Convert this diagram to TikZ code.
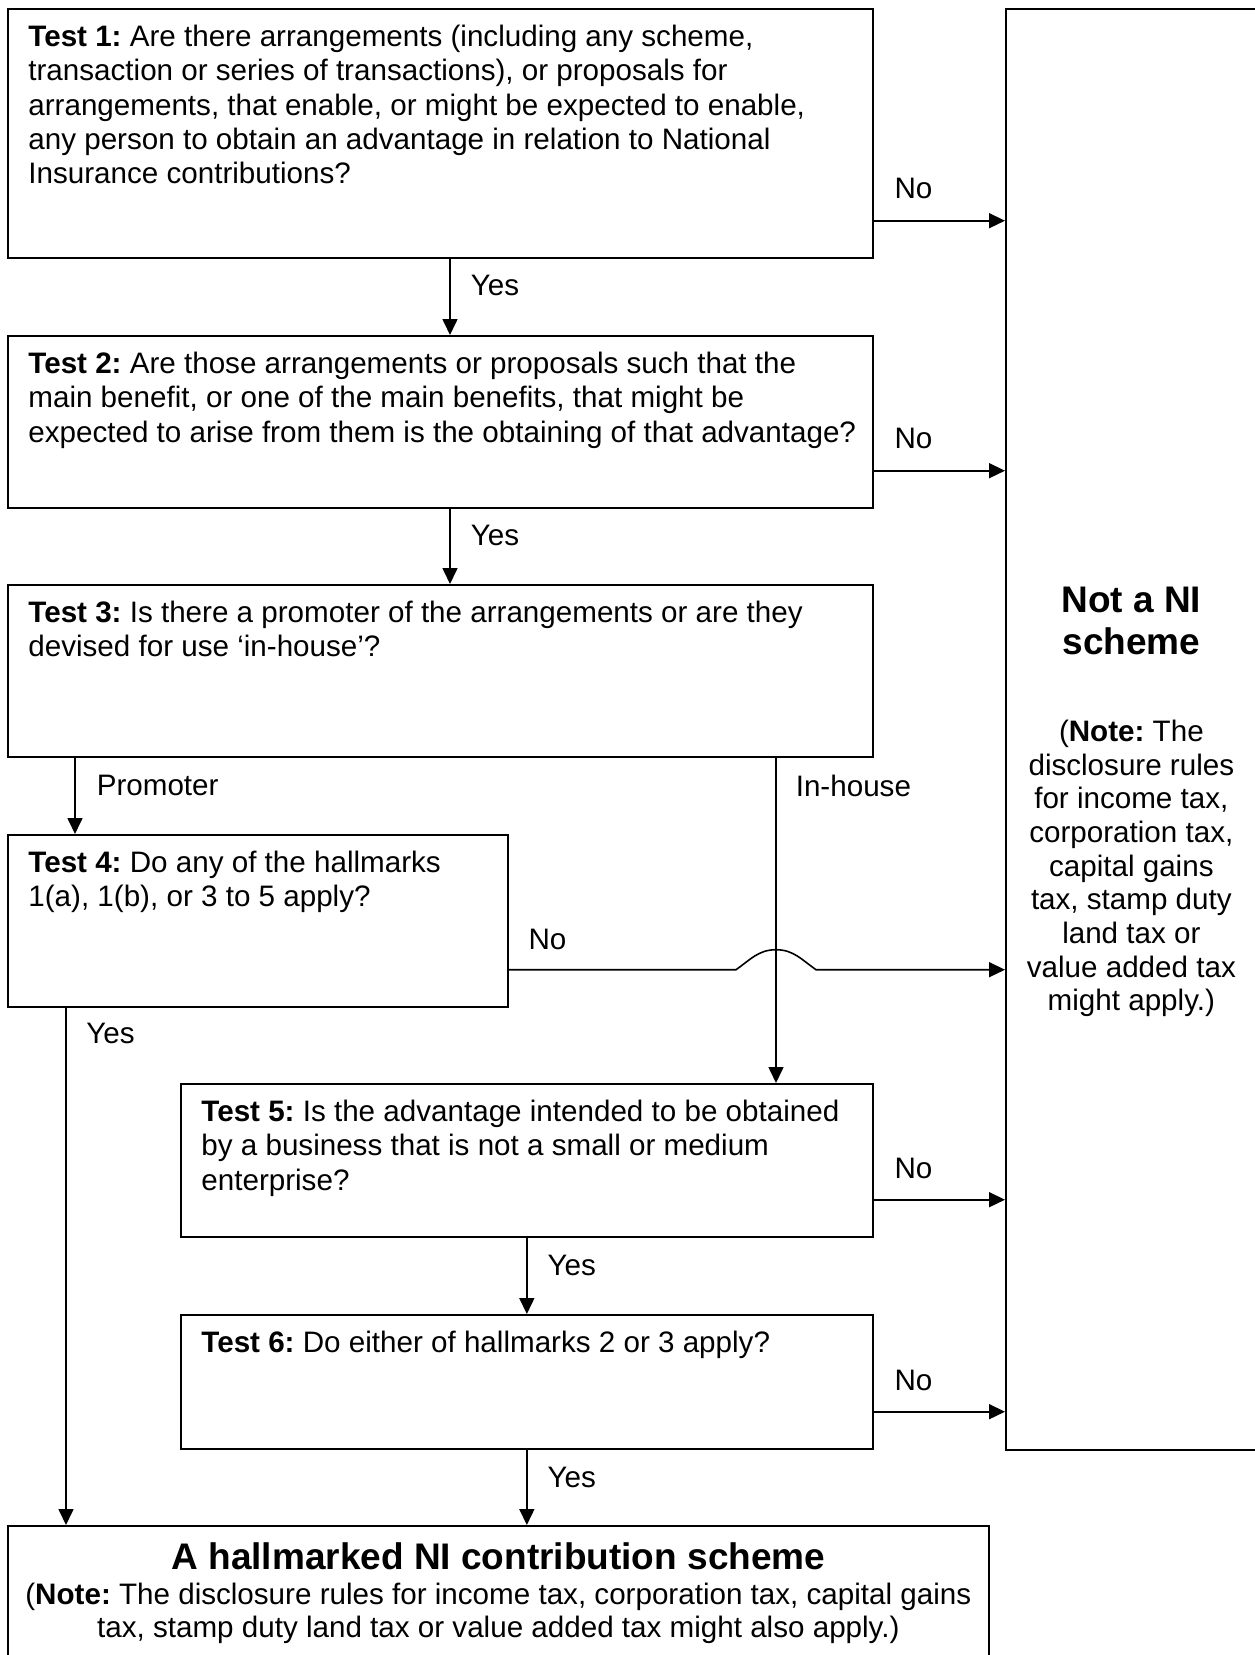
\documentclass[tikz,border=0pt]{standalone}
\usepackage{fontspec}
\setmainfont{Liberation Sans}
\usetikzlibrary{arrows.meta}
\frenchspacing
\begin{document}
\begin{tikzpicture}[x=0.5pt,y=0.5pt]
        \tikzstyle{test}=[draw=black,line width=0.85pt,anchor=north west,inner sep=0pt]
        \tikzstyle{txt}=[anchor=north west,align=left,inner sep=0pt,font=\fontsize{14.8pt}{17.1pt}\selectfont]
        \tikzstyle{big}=[anchor=north,align=center,inner sep=0pt,font=\fontsize{18.5pt}{21pt}\selectfont\bfseries]
        \tikzstyle{note}=[anchor=north,align=center,inner sep=0pt,font=\fontsize{14.8pt}{16.85pt}\selectfont]
        \tikzstyle{lbl}=[anchor=west,inner sep=0pt,font=\fontsize{14.8pt}{17.1pt}\selectfont]
        \tikzstyle{edge}=[draw,line width=0.8pt,-{Triangle[length=8pt,width=7.5pt]}]
        \useasboundingbox (0,0) rectangle (1254,-1655);
       \begin{scope}
         \node [test,minimum width=432.5pt,minimum height=124.5pt] (t1) at (7,-8) {};
         \node [test,minimum width=432.5pt,minimum height=86pt] (t2) at (7,-335) {};
         \node [test,minimum width=432.5pt,minimum height=86pt] (t3) at (7,-584) {};
         \node [test,minimum width=250pt,minimum height=86pt] (t4) at (7,-834) {};
         \node [test,minimum width=346pt,minimum height=76.5pt] (t5) at (180,-1083) {};
         \node [test,minimum width=346pt,minimum height=67pt] (t6) at (180,-1314) {};
         \node [test,minimum width=125.5pt,minimum height=720.5pt] (nn) at (1005,-8) {};
         \node [test,minimum width=490.5pt,minimum height=70pt] (hm) at (7,-1525) {};
         \node [txt] (t1txt) at ([shift={(10.5pt,-8.4pt)}]t1.north west) {\textbf{Test 1:} Are there arrangements (including any scheme,\\transaction or series of transactions), or proposals for\\arrangements, that enable, or might be expected to enable,\\any person to obtain an advantage in relation to National\\Insurance contributions?};
         \node [txt] (t2txt) at ([shift={(10.5pt,-8.4pt)}]t2.north west) {\textbf{Test 2:} Are those arrangements or proposals such that the\\main benefit, or one of the main benefits, that might be\\expected to arise from them is the obtaining of that advantage?};
         \node [txt] (t3txt) at ([shift={(10.5pt,-8.4pt)}]t3.north west) {\textbf{Test 3:} Is there a promoter of the arrangements or are they\\devised for use ‘in-house’?};
         \node [txt] (t4txt) at ([shift={(10.5pt,-8.4pt)}]t4.north west) {\textbf{Test 4:} Do any of the hallmarks\\1(a), 1(b), or 3 to 5 apply?};
         \node [txt] (t5txt) at ([shift={(10.5pt,-8.4pt)}]t5.north west) {\textbf{Test 5:} Is the advantage intended to be obtained\\by a business that is not a small or medium\\enterprise?};
         \node [txt] (t6txt) at ([shift={(10.5pt,-8.4pt)}]t6.north west) {\textbf{Test 6:} Do either of hallmarks 2 or 3 apply?};
         \node [big] (nntitle) at ([yshift=-289.25pt]nn.north) {Not a NI\\scheme};
         \node [note] (nnnote) at ([yshift=-355.75pt]nn.north) {(\textbf{Note:} The\\disclosure rules\\for income tax,\\corporation tax,\\capital gains\\tax, stamp duty\\land tax or\\value added tax\\might apply.)};
         \node [big] (hmtitle) at ([yshift=-8.75pt]hm.north) {A hallmarked NI contribution scheme};
         \node [note,font=\fontsize{14.8pt}{16.5pt}\selectfont] (hmnote) at ([yshift=-28.75pt]hm.north) {(\textbf{Note:} The disclosure rules for income tax, corporation tax, capital gains\\tax, stamp duty land tax or value added tax might also apply.)};
         \coordinate (no1) at ([yshift=19pt]t1.south east);
         \coordinate (no2) at ([yshift=19pt]t2.south east);
         \coordinate (no4) at ([yshift=19pt]t4.south east);
         \coordinate (no5) at ([yshift=19pt]t5.south east);
         \coordinate (no6) at ([yshift=19pt]t6.south east);
         \coordinate (inh) at ([xshift=384.5pt]t3.south west);
         \coordinate (hop) at (inh |- no4);
         \path[edge] ([xshift=221.5pt]t1.south west) -- node[lbl,at start,xshift=10pt,yshift=-13.5pt] {Yes} ([xshift=221.5pt]t2.north west);
         \path[edge] ([xshift=221.5pt]t2.south west) -- node[lbl,at start,xshift=10pt,yshift=-13.5pt] {Yes} ([xshift=221.5pt]t3.north west);
         \path[edge] ([xshift=34pt]t3.south west) -- node[lbl,at start,xshift=10.5pt,yshift=-14pt] {Promoter} ([xshift=34pt]t4.north west);
         \path[edge] (inh) -- node[lbl,at start,xshift=9.5pt,yshift=-14pt] {In-house} (inh |- t5.north);
         \path[edge] ([xshift=29.5pt]t4.south west) -- node[lbl,at start,xshift=9.75pt,yshift=-13pt] {Yes} ([xshift=29.5pt]hm.north west);
         \path[edge] (t5.south) -- node[lbl,at start,xshift=10pt,yshift=-14pt] {Yes} (t6.north);
         \path[edge] (t6.south) -- node[lbl,at start,xshift=10pt,yshift=-14pt] {Yes} (t6.south |- hm.north);
         \path[edge] (no1) -- node[lbl,at start,xshift=10pt,yshift=16pt] {No} (no1 -| nn.west);
         \path[edge] (no2) -- node[lbl,at start,xshift=10pt,yshift=16pt] {No} (no2 -| nn.west);
         \path[edge] (no4) -- node[lbl,at start,xshift=9.5pt,yshift=15pt] {No} ([xshift=-20pt]hop) to[out=35,in=180] ([yshift=10pt]hop) to[out=0,in=145] ([xshift=20pt]hop) -- (no4 -| nn.west);
         \path[edge] (no5) -- node[lbl,at start,xshift=10pt,yshift=15.5pt] {No} (no5 -| nn.west);
         \path[edge] (no6) -- node[lbl,at start,xshift=10pt,yshift=15.5pt] {No} (no6 -| nn.west);
        \end{scope}
      \end{tikzpicture}
\end{document}
